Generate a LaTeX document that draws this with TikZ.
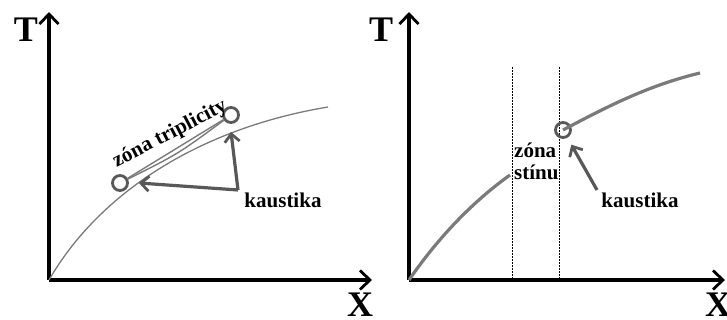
\documentclass[tikz,border=0pt]{standalone}
\usepackage{fontspec}
\setmainfont{Liberation Serif}
\usetikzlibrary{arrows.meta,positioning}
\definecolor{curvegray}{HTML}{7A7A7A}
\definecolor{arrowgray}{HTML}{585858}

\begin{document}
\begin{tikzpicture}[
  x=1pt, y=-1pt,
  axis/.style={line width=3.2pt, -{Straight Barb[length=10pt,width=19pt,line width=2.8pt]}},
  lbl/.style={font=\fontsize{21}{23}\selectfont\bfseries, inner sep=0pt},
  big/.style={font=\fontsize{36}{36}\selectfont\bfseries, inner sep=0pt},
  ring/.style={circle, draw=arrowgray, line width=2.8pt, minimum size=15pt, inner sep=0pt},
  arr/.style={draw=arrowgray, line width=3.2pt, -{Straight Barb[length=8pt,width=15pt,line width=2.8pt]}},
  zone/.style={line width=1pt, dash pattern=on 2pt off 1pt}
]
\useasboundingbox (0,0) rectangle (727,320);

% left panel
\coordinate (o1) at (49,280);
\coordinate (t1) at (49,12);
\coordinate (x1) at (372,280);
\draw[axis] (o1) -- (t1);
\draw[axis] (o1) -- (x1);
\node[big] (T1) at (26,30) {T};
\node[big] (X1) at (360,305) {X};

\draw[curvegray, line width=1.3pt] (o1) .. controls (95,200) and (190,130) .. (328,107);

\node[ring] (cl) at (120,183) {};
\node[ring] (cr) at (231,115) {};
\draw[curvegray, line width=1.4pt] (cl) -- (cr);
\draw[curvegray, line width=1.4pt] (cl) .. controls (178,154) .. (cr);
\node[lbl, rotate=27.4] (trip) at (170,134) {zóna triplicity};

\node[lbl] (kl) at (283,200) {kaustika};
\coordinate (kc) at (238,190);
\draw[arr] (kc) -- ([yshift=-8pt]cr.south);
\draw[arr] (kc) -- ([xshift=10pt]cl.east);

% right panel
\coordinate (o2) at (409,280);
\coordinate (t2) at (409,12);
\coordinate (x2) at (725,280);
\draw[axis] (o2) -- (t2);
\draw[axis] (o2) -- (x2);
\node[big] (T2) at (381,30) {T};
\node[big] (X2) at (718,305) {X};

\coordinate (d1t) at (512,67);
\coordinate (d1b) at (512,280);
\coordinate (d2t) at (559,67);
\coordinate (d2b) at (559,280);
\draw[zone] (d1t) -- (d1b);
\draw[zone] (d2t) -- (d2b);

\node[ring] (cs) at (563,130) {};
\draw[curvegray, line width=3.2pt] (o2) .. controls (440,235) and (475,200) .. (510,175);
\draw[curvegray, line width=3.2pt] (cs.center) .. controls (610,105) and (650,85) .. (700,73);

\node[lbl, anchor=base west] (zs1) at (514,158) {zóna};
\node[lbl, anchor=base west] (zs2) at (514,180) {stínu};

\node[lbl] (kr) at (640,200) {kaustika};
\coordinate (ks) at (597,190);
\draw[arr, shorten >=8pt] (ks) -- (cs);
\end{tikzpicture}
\end{document}
